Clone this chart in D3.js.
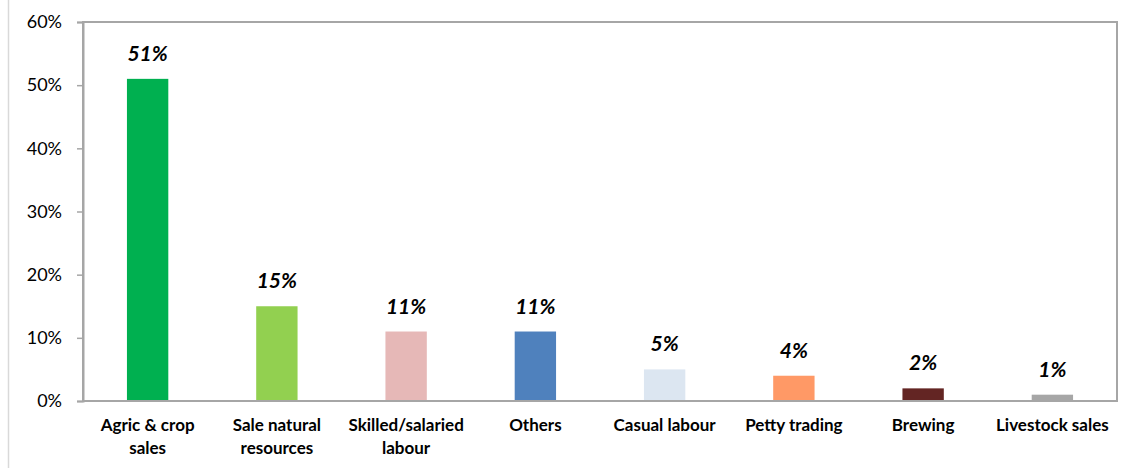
<!DOCTYPE html>
<html>
<head>
<meta charset="utf-8">
<script src="https://cdn.jsdelivr.net/npm/d3@7"></script>
<style>
  body { margin: 0; background: #fff; }
  svg { display: block; font-family: Lato, "Open Sans", sans-serif; }
</style>
</head>
<body>
<svg id="chart"></svg>
<script>
// data
var categories = ["Agric & crop sales", "Sale natural resources", "Skilled/salaried labour", "Others",
                  "Casual labour", "Petty trading", "Brewing", "Livestock sales"];
var catLines = [["Agric & crop", "sales"], ["Sale natural", "resources"], ["Skilled/salaried", "labour"], ["Others"],
                ["Casual labour"], ["Petty trading"], ["Brewing"], ["Livestock sales"]];
var values = [51, 15, 11, 11, 5, 4, 2, 1];
var colors = ["#00B050", "#92D050", "#E6B8B7", "#4F81BD", "#DCE6F1", "#FF9966", "#632523", "#A6A6A6"];
var yTicks = [0, 10, 20, 30, 40, 50, 60];

var width = 1126, height = 468;
var margin = {left: 83, right: 9, top: 22, bottom: 67};

var svg = d3.select("#chart")
    .attr("width", width)
    .attr("height", height);

// outer chart frame (left edge only visible)
svg.append("line")
    .attr("x1", 8.5).attr("x2", 8.5)
    .attr("y1", 0).attr("y2", height)
    .attr("stroke", "#D9D9D9")
    .attr("stroke-width", 1.5);

var x = d3.scaleBand()
    .domain(categories)
    .range([margin.left, width - margin.right])
    .paddingInner(0.68)
    .paddingOuter(0.34);

var y = d3.scaleLinear()
    .domain([0, 60])
    .range([height - margin.bottom, margin.top]);

// plot area border
svg.append("rect")
    .attr("x", margin.left)
    .attr("y", margin.top)
    .attr("width", width - margin.right - margin.left)
    .attr("height", y(0) - margin.top)
    .attr("fill", "none")
    .attr("stroke", "#A6A6A6")
    .attr("stroke-width", 2);

// y axis
var yAxis = svg.append("g")
    .attr("transform", "translate(" + margin.left + ",0)")
    .call(d3.axisLeft(y).tickValues(yTicks).tickFormat(d => d + "%").tickSize(6).tickPadding(15));
yAxis.select(".domain").attr("stroke", "#A6A6A6").attr("stroke-width", 2);
yAxis.selectAll(".tick line").attr("stroke", "#A6A6A6").attr("stroke-width", 1.5);
yAxis.selectAll("text")
    .attr("font-size", "18px")
    .attr("font-family", "Lato, 'Open Sans', sans-serif")
    .attr("fill", "#000");

// bars
svg.selectAll(".bar")
    .data(values)
    .enter()
    .append("rect")
    .classed("bar", true)
    .attr("x", (d, i) => x(categories[i]))
    .attr("y", d => y(d))
    .attr("width", x.bandwidth())
    .attr("height", d => y(0) - y(d))
    .attr("fill", (d, i) => colors[i]);

// bottom axis line over bars
svg.append("line")
    .attr("x1", margin.left).attr("x2", width - margin.right)
    .attr("y1", y(0)).attr("y2", y(0))
    .attr("stroke", "#A6A6A6")
    .attr("stroke-width", 2);

// value labels
svg.selectAll(".val")
    .data(values)
    .enter()
    .append("text")
    .classed("val", true)
    .attr("x", (d, i) => x(categories[i]) + x.bandwidth() / 2)
    .attr("y", d => y(d) - 18)
    .attr("text-anchor", "middle")
    .attr("font-size", "21px")
    .attr("font-weight", "bold")
    .attr("font-style", "italic")
    .attr("fill", "#000")
    .text(d => d + "%");

// category labels
var cat = svg.selectAll(".cat")
    .data(catLines)
    .enter()
    .append("text")
    .classed("cat", true)
    .attr("text-anchor", "middle")
    .attr("font-size", "17px")
    .attr("font-weight", "bold")
    .attr("fill", "#000");
cat.selectAll("tspan")
    .data((d, i) => d.map(t => ({t: t, i: i})))
    .enter()
    .append("tspan")
    .attr("x", d => x(categories[d.i]) + x.bandwidth() / 2)
    .attr("y", (d, j) => 431 + j * 23)
    .text(d => d.t);
</script>
</body>
</html>
